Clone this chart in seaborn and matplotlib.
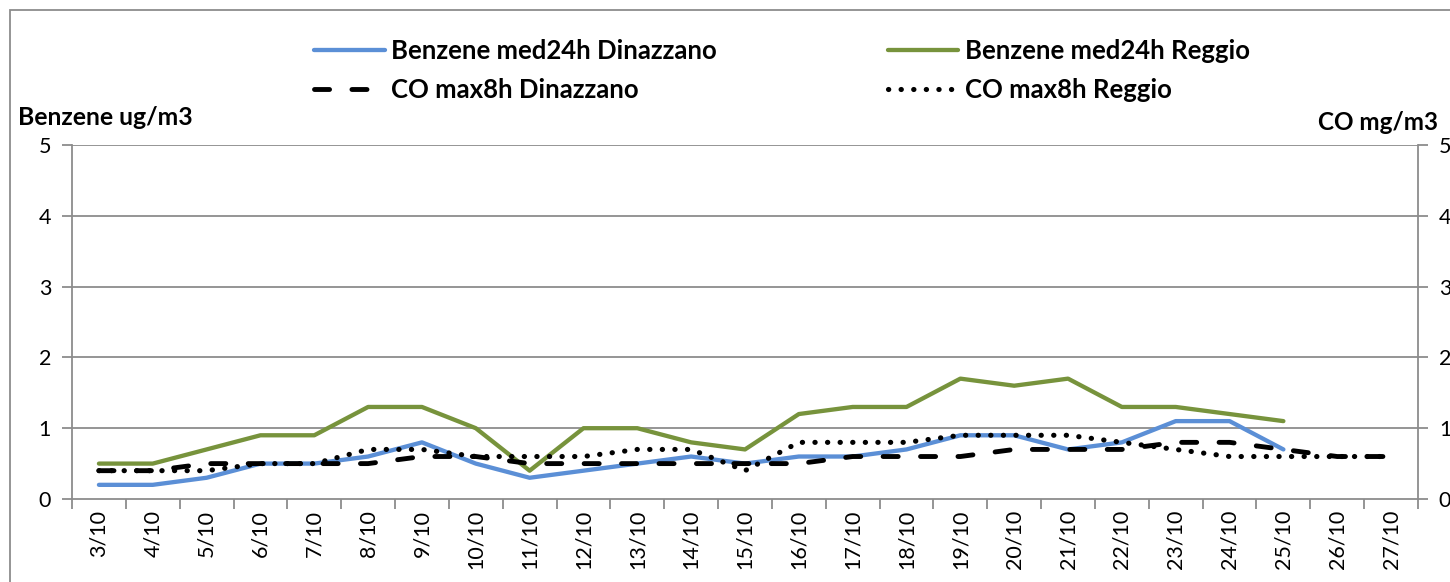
import numpy as np
import pandas as pd
import matplotlib
matplotlib.use("Agg")
import matplotlib.pyplot as plt
import seaborn as sns
from matplotlib.patches import Rectangle
from matplotlib.lines import Line2D

dates = ["3/10", "4/10", "5/10", "6/10", "7/10", "8/10", "9/10", "10/10", "11/10",
         "12/10", "13/10", "14/10", "15/10", "16/10", "17/10", "18/10", "19/10",
         "20/10", "21/10", "22/10", "23/10", "24/10", "25/10", "26/10", "27/10"]
benz_dinazzano = [0.2, 0.2, 0.3, 0.5, 0.5, 0.6, 0.8, 0.5, 0.3, 0.4, 0.5, 0.6, 0.5,
                  0.6, 0.6, 0.7, 0.9, 0.9, 0.7, 0.8, 1.1, 1.1, 0.7, None, None]
benz_reggio = [0.5, 0.5, 0.7, 0.9, 0.9, 1.3, 1.3, 1.0, 0.4, 1.0, 1.0, 0.8, 0.7,
               1.2, 1.3, 1.3, 1.7, 1.6, 1.7, 1.3, 1.3, 1.2, 1.1, None, None]
co_dinazzano = [0.4, 0.4, 0.5, 0.5, 0.5, 0.5, 0.6, 0.6, 0.5, 0.5, 0.5, 0.5, 0.5,
                0.5, 0.6, 0.6, 0.6, 0.7, 0.7, 0.7, 0.8, 0.8, 0.7, 0.6, 0.6]
co_reggio = [0.4, 0.4, 0.4, 0.5, 0.5, 0.7, 0.7, 0.6, 0.6, 0.6, 0.7, 0.7, 0.4,
             0.8, 0.8, 0.8, 0.9, 0.9, 0.9, 0.8, 0.7, 0.6, 0.6, 0.6, 0.6]
y_ticks = [0, 1, 2, 3, 4, 5]

labels = ["Benzene med24h Dinazzano", "Benzene med24h Reggio",
          "CO max8h Dinazzano", "CO max8h Reggio"]

sns.set_style("white")
plt.rcParams['font.family'] = ['Lato', 'DejaVu Sans']
plt.rcParams['text.color'] = 'black'
plt.rcParams['xtick.color'] = 'black'
plt.rcParams['ytick.color'] = 'black'

df = pd.DataFrame({
    "pos": np.arange(len(dates)),
    "bd": pd.array(benz_dinazzano, dtype="Float64").astype(float),
    "br": pd.array(benz_reggio, dtype="Float64").astype(float),
    "cd": co_dinazzano,
    "cr": co_reggio,
})

W, H = 1450, 582
fig = plt.figure(figsize=(W / 100, H / 100), dpi=100)
fig.patch.set_facecolor("white")
ax = fig.add_axes([72 / W, 83 / H, (1418 - 72) / W, (499 - 145) / H])
ax2 = ax.twinx()

blue = "#5B8FD6"
green = "#77933C"
grid_c = "#8C8C8C"
lw = 3.1
dash_lw = 3.5
dash_ls = (0, (3.1, 4.6))
dot_ls = (0, (0.05, 2.4))
dot_lw = 3.7

sns.lineplot(data=df, x="pos", y="bd", ax=ax, color=blue, linewidth=lw,
             solid_capstyle="round", solid_joinstyle="round")
sns.lineplot(data=df, x="pos", y="br", ax=ax, color=green, linewidth=lw,
             solid_capstyle="round", solid_joinstyle="round")
sns.lineplot(data=df, x="pos", y="cd", ax=ax2, color="black", linewidth=dash_lw,
             linestyle=dash_ls, dash_capstyle="round")
sns.lineplot(data=df, x="pos", y="cr", ax=ax2, color="black", linewidth=dot_lw,
             linestyle=dot_ls, dash_capstyle="round")

for a in (ax, ax2):
    a.set_xlim(-0.5, len(dates) - 0.5)
    a.set_ylim(0, 5)
    a.set_yticks(y_ticks)
    a.set_xlabel("")
    a.set_ylabel("")

ax.grid(False)
for v in y_ticks[1:]:
    ax.axhline(v, color=grid_c, linewidth=1.3, zorder=0)

tick_fs = 15.5
ax.set_xticks(np.arange(-0.5, len(dates)), minor=False)
ax.set_xticklabels([])
ax.set_xticks(np.arange(len(dates)), minor=True)
ax.set_xticklabels(dates, minor=True, rotation=90, fontsize=tick_fs)
ax.tick_params(axis="x", which="major", direction="out", length=7, width=1.3,
               color=grid_c, bottom=True)
ax.tick_params(axis="x", which="minor", length=0, pad=8, bottom=True,
               labelcolor="black")
ax.tick_params(axis="y", direction="out", length=7, width=1.3, color=grid_c,
               labelsize=tick_fs, pad=8, left=True, labelcolor="black")
ax2.tick_params(axis="y", direction="out", length=7, width=1.3, color=grid_c,
                labelsize=tick_fs, pad=8, right=True, labelcolor="black")

for a in (ax, ax2):
    for s in a.spines.values():
        s.set_visible(False)
ax.spines["left"].set_visible(True)
ax.spines["bottom"].set_visible(True)
ax2.spines["right"].set_visible(True)
for s in (ax.spines["left"], ax.spines["bottom"], ax2.spines["right"]):
    s.set_color(grid_c)
    s.set_linewidth(1.3)

if ax.get_legend():
    ax.get_legend().remove()
if ax2.get_legend():
    ax2.get_legend().remove()

handles = [
    Line2D([], [], color=blue, linewidth=lw, solid_capstyle="round"),
    Line2D([], [], color="black", linewidth=dash_lw, linestyle=dash_ls, dash_capstyle="round"),
    Line2D([], [], color=green, linewidth=lw, solid_capstyle="round"),
    Line2D([], [], color="black", linewidth=dot_lw, linestyle=dot_ls, dash_capstyle="round"),
]
hl = [labels[0], labels[2], labels[1], labels[3]]
fig.legend(handles, hl, ncol=2, frameon=False, loc="upper left",
           bbox_to_anchor=(314 / W, 1 - 39 / H),
           prop={"weight": "bold", "size": 18.5}, labelcolor="black",
           handlelength=2.75, handletextpad=0.25, columnspacing=6.65,
           labelspacing=0.58, borderaxespad=0, borderpad=0)

fig.text(18 / W, 1 - 118 / H, "Benzene ug/m3", fontsize=17.8, fontweight="bold",
         ha="left", va="center", color="black")
fig.text(1438 / W, 1 - 123 / H, "CO mg/m3", fontsize=17.5, fontweight="bold",
         ha="right", va="center", color="black")

fig.add_artist(Rectangle((10 / W, -0.1), 1.2, 1 - 10 / H + 0.1,
                         transform=fig.transFigure, fill=False,
                         edgecolor="#8C8C8C", linewidth=1.3))

fig.savefig("out.png", dpi=100)
